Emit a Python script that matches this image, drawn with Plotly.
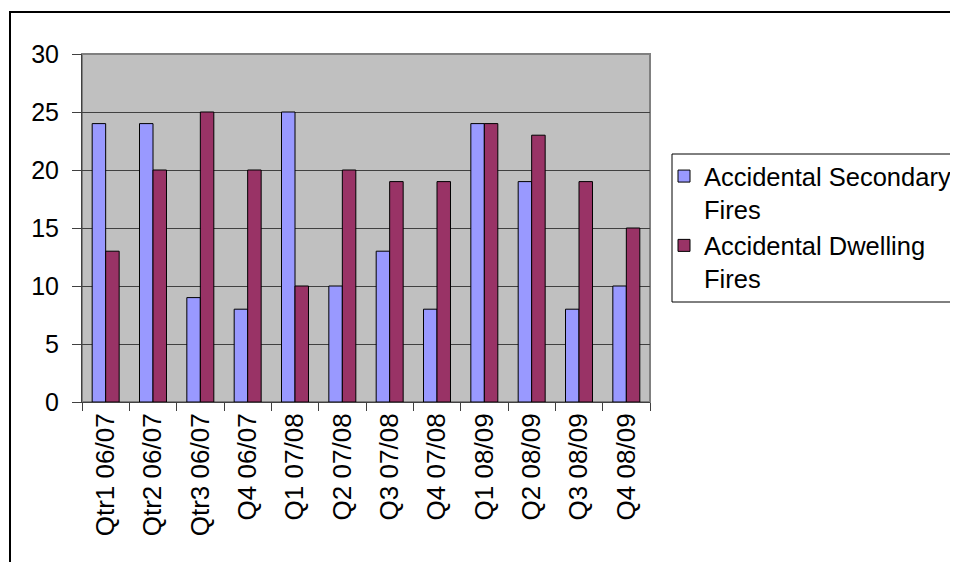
import plotly.graph_objects as go

categories = ["Qtr1 06/07", "Qtr2 06/07", "Qtr3 06/07", "Q4 06/07", "Q1 07/08", "Q2 07/08",
              "Q3 07/08", "Q4 07/08", "Q1 08/09", "Q2 08/09", "Q3 08/09", "Q4 08/09"]
secondary = [24, 24, 9, 8, 25, 10, 13, 8, 24, 19, 8, 10]
dwelling = [13, 20, 25, 20, 10, 20, 19, 19, 24, 23, 19, 15]
y_ticks = [0, 5, 10, 15, 20, 25, 30]

FONT = "Liberation Sans, Arial, sans-serif"
OFF = 8  # page body margin
W, H = 958 - OFF, 562 - OFF
# target pixel positions in the screenshot
L, R, T, B = 82, 650, 54, 402

fig = go.Figure()
fig.add_trace(go.Bar(x=categories, y=secondary, name="Accidental Secondary<br>Fires",
                     marker=dict(color="#9999FF", line=dict(color="black", width=1))))
fig.add_trace(go.Bar(x=categories, y=dwelling, name="Accidental Dwelling<br>Fires",
                     marker=dict(color="#993366", line=dict(color="black", width=1))))

pw, ph = R - L, B - T
def px(x):
    return (x - L) / pw
def py(y):
    return (B - y) / ph

fig.update_layout(
    width=W, height=H,
    margin=dict(l=L - OFF, r=958 - R, t=T - OFF, b=562 - B, pad=0, autoexpand=False),
    paper_bgcolor="white", plot_bgcolor="#C0C0C0",
    font=dict(family=FONT, size=26, color="black"),
    barmode="group", bargap=0.43, bargroupgap=0,
    showlegend=True,
    legend=dict(xref="container", yref="container",
                x=(664 - OFF) / W, y=1 - (153 - OFF) / H, xanchor="left", yanchor="top", valign="top",
                borderwidth=0, bgcolor="rgba(0,0,0,0)",
                font=dict(size=25.5), tracegroupgap=11, itemwidth=30),
    xaxis=dict(tickangle=-90, tickson="boundaries", ticks="outside", ticklen=8,
               tickcolor="#404040", showline=True, linecolor="#404040", linewidth=1,
               showgrid=False, mirror=False, tickfont=dict(size=26)),
    yaxis=dict(range=[0, 30], tickvals=y_ticks, ticks="outside", ticklen=9,
               tickcolor="#404040", showline=True, linecolor="#404040", linewidth=1,
               gridcolor="#404040", gridwidth=1, zeroline=False, tickfont=dict(size=25),
               ticklabelstandoff=8),
    shapes=[
        dict(type="rect", xref="paper", yref="paper", x0=0, x1=1, y0=0, y1=1,
             line=dict(color="#808080", width=2), layer="below"),
        dict(type="rect", xref="paper", yref="paper", x0=px(672), x1=px(975), y0=py(154), y1=py(302),
             line=dict(color="black", width=1), fillcolor="white", layer="below"),
        dict(type="rect", xref="paper", yref="paper", x0=px(10), x1=px(970), y0=py(12), y1=py(575),
             line=dict(color="black", width=2), fillcolor="rgba(0,0,0,0)"),
    ],
)

fig.write_html("out.html")
